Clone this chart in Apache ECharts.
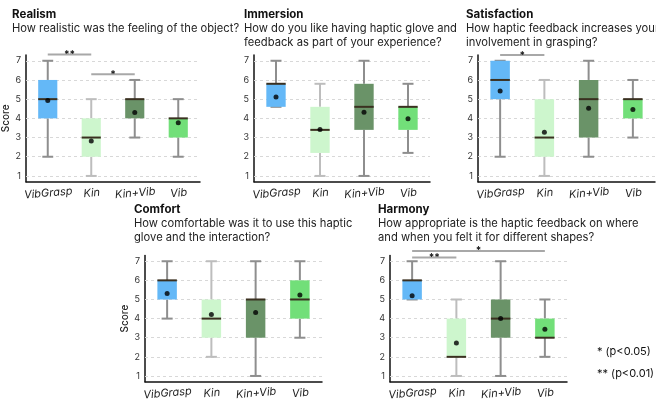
<!DOCTYPE html>
<html lang="en">
<head>
  <meta charset="UTF-8">
  <title>Haptic glove questionnaire</title>
  <style>html, body { margin: 0; padding: 0; background: #fff; }</style>
</head>
<body>
  <div id="main" style="width: 656px;height:403px;"></div>
  <script src="https://cdn.jsdelivr.net/npm/echarts@6/dist/echarts.min.js"></script>
  <script type="text/javascript">
    // conditions and score ticks
    var conditions = ['VibGrasp', 'Kin', 'Kin+Vib', 'Vib'];
    var scoreTicks = [1, 2, 3, 4, 5, 6, 7];

    // box stats per condition: [low, q1, median, q3, high]
    var realismBox = [[2, 4, 5, 6, 7], [1, 2, 3, 4, 5], [3, 4, 5, 5, 6], [2, 3, 4, 4, 5]];
    var realismMean = [4.93, 2.82, 4.31, 3.77];
    var immersionBox = [[4.6, 4.6, 5.8, 5.8, 7], [1, 2.2, 3.4, 4.6, 5.8], [1, 3.4, 4.6, 5.8, 7], [2.2, 3.4, 4.6, 4.6, 5.8]];
    var immersionMean = [5.11, 3.42, 4.32, 3.98];
    var satisfactionBox = [[2, 5, 6, 7, 7], [1, 2, 3, 5, 6], [2, 3, 5, 6, 7], [3, 4, 5, 5, 6]];
    var satisfactionMean = [5.43, 3.27, 4.53, 4.46];
    var comfortBox = [[4, 5, 6, 6, 7], [2, 3, 4, 5, 7], [1, 3, 5, 5, 7], [3, 4, 5, 6, 7]];
    var comfortMean = [5.31, 4.22, 4.32, 5.23];
    var harmonyBox = [[5, 5, 6, 6, 7], [1, 2, 2, 4, 5], [1, 3, 4, 5, 7], [2, 3, 3, 4, 5]];
    var harmonyMean = [5.19, 2.72, 4.01, 3.44];

    // significance brackets: [from, to, y, stars]
    var realismSig = [['VibGrasp', 'Kin', 7.33, '**'], ['Kin', 'Kin+Vib', 6.3, '*']];
    var immersionSig = [];
    var satisfactionSig = [['VibGrasp', 'Kin', 7.3, '*']];
    var comfortSig = [];
    var harmonySig = [['VibGrasp', 'Kin', 7.19, '**'], ['VibGrasp', 'Vib', 7.54, '*']];

    var panelTitles = ['Realism', 'Immersion', 'Satisfaction', 'Comfort', 'Harmony'];
    var panelQuestions = [
      'How realistic was the feeling of the object?',
      'How do you like having haptic glove and\nfeedback as part of your experience?',
      'How haptic feedback increases your\ninvolvement in grasping?',
      'How comfortable was it to use this haptic\nglove and the interaction?',
      'How appropriate is the haptic feedback on where\nand when you felt it for different shapes?'
    ];
    var noteLabels = ['* (p<0.05)', '** (p<0.01)'];

    var boxColors = ['#64b8f7', '#cdf6cd', '#6a9368', '#72df79'];
    var whiskerColors = ['#8e8e8e', '#bdbdbd', '#8e8e8e', '#8e8e8e'];
    var FONT = 'Inter';

    var myChart = echarts.init(document.getElementById('main'));
    myChart.setOption(buildOption());

    function buildOption() {
      var boxes = [realismBox, immersionBox, satisfactionBox, comfortBox, harmonyBox];
      var means = [realismMean, immersionMean, satisfactionMean, comfortMean, harmonyMean];
      var sigs = [realismSig, immersionSig, satisfactionSig, comfortSig, harmonySig];

      // layout of the five panels
      var grids = [
        { left: 23, top: 55, width: 177, height: 126.7 },
        { left: 254, top: 55, width: 176, height: 126.7 },
        { left: 478, top: 55, width: 177, height: 126.7 },
        { left: 145, top: 255.5, width: 177, height: 126.2 },
        { left: 390, top: 255.5, width: 177, height: 126.2 }
      ];
      var titlePos = [[12, 7], [244, 7], [466, 7], [134, 202], [378, 202]];

      var title = [], xAxis = [], yAxis = [], series = [];
      grids.forEach(function (g, k) {
        title.push({
          text: panelTitles[k],
          subtext: panelQuestions[k],
          left: titlePos[k][0],
          top: titlePos[k][1],
          padding: 0,
          itemGap: 0,
          textStyle: { fontFamily: FONT, fontSize: 11.5, fontWeight: 'bold', color: '#111', lineHeight: 15 },
          subtextStyle: { fontFamily: FONT, fontSize: 11.2, color: '#222', lineHeight: 14 }
        });
        xAxis.push({
          gridIndex: k,
          type: 'category',
          data: conditions,
          axisLine: { lineStyle: { color: '#111', width: 1.5 } },
          axisTick: { show: false },
          axisLabel: {
            interval: 0, hideOverlap: false,
            fontFamily: FONT, fontStyle: 'italic', fontSize: 11, color: '#222',
            rotate: 5, align: 'center', verticalAlign: 'top', margin: 6
          }
        });
        yAxis.push({
          gridIndex: k,
          type: 'value',
          min: 0.7,
          max: 7.3,
          name: (k === 0 || k === 3) ? 'Score' : '',
          nameLocation: 'middle',
          nameGap: 15,
          nameTextStyle: { fontFamily: FONT, fontSize: 10, fontWeight: 500, color: '#222' },
          axisLine: { show: true, lineStyle: { color: '#111', width: 1.5 } },
          axisTick: { show: false },
          splitLine: { show: false },
          axisLabel: { customValues: scoreTicks, fontFamily: FONT, fontSize: 9, color: '#333', margin: 5 }
        });

        // dashed gridlines at the integer scores
        series.push({
          type: 'line',
          xAxisIndex: k,
          yAxisIndex: k,
          data: [],
          z: 1,
          markLine: {
            z: 1,
            silent: true,
            symbol: 'none',
            label: { show: false },
            lineStyle: { type: [3, 3], color: '#d8d8d8', width: 1 },
            data: scoreTicks.map(function (v) { return { yAxis: v }; })
          }
        });

        series.push({
          type: 'custom',
          xAxisIndex: k,
          yAxisIndex: k,
          z: 2,
          encode: { x: 0, y: [1, 2, 3, 4, 5] },
          data: boxes[k].map(function (b, i) { return [i].concat(b); }),
          renderItem: renderBox
        });

        series.push({
          type: 'scatter',
          xAxisIndex: k,
          yAxisIndex: k,
          z: 3,
          symbolSize: 5,
          itemStyle: { color: '#000' },
          data: means[k].map(function (m, i) { return [conditions[i], m]; })
        });

        if (sigs[k].length) {
          series.push({
            type: 'custom',
            xAxisIndex: k,
            yAxisIndex: k,
            z: 4,
            clip: false,
            silent: true,
            data: sigs[k].map(function (s) {
              return [conditions.indexOf(s[0]), conditions.indexOf(s[1]), s[2], s[3]];
            }),
            renderItem: renderSig
          });
        }
      });

      var graphic = noteLabels.map(function (t, i) {
        return {
          type: 'text',
          left: 597,
          top: 346 + i * 22.5,
          style: { text: t, font: '11px ' + FONT, fill: '#111' }
        };
      });

      return { animation: false, title: title, grid: grids, xAxis: xAxis, yAxis: yAxis, series: series, graphic: graphic };
    }

    function renderBox(params, api) {
      var i = api.value(0);
      var lo = api.coord([i, api.value(1)]);
      var q1 = api.coord([i, api.value(2)]);
      var md = api.coord([i, api.value(3)]);
      var q3 = api.coord([i, api.value(4)]);
      var hi = api.coord([i, api.value(5)]);
      var band = api.size([1, 0])[0];
      var bw = band * 0.44;
      var cw = band * 0.25;
      var x = lo[0];
      var ws = { stroke: whiskerColors[i], lineWidth: 2 };
      return {
        type: 'group',
        children: [
          { type: 'line', shape: { x1: x, y1: lo[1], x2: x, y2: q1[1] }, style: ws },
          { type: 'line', shape: { x1: x, y1: q3[1], x2: x, y2: hi[1] }, style: ws },
          { type: 'line', shape: { x1: x - cw / 2, y1: lo[1], x2: x + cw / 2, y2: lo[1] }, style: ws },
          { type: 'line', shape: { x1: x - cw / 2, y1: hi[1], x2: x + cw / 2, y2: hi[1] }, style: ws },
          { type: 'rect', shape: { x: x - bw / 2, y: q3[1], width: bw, height: q1[1] - q3[1] }, style: { fill: boxColors[i] } },
          { type: 'line', shape: { x1: x - bw / 2, y1: md[1], x2: x + bw / 2, y2: md[1] }, style: { stroke: '#3a3020', lineWidth: 2 } }
        ]
      };
    }

    function renderSig(params, api) {
      var a = api.coord([api.value(0), api.value(2)]);
      var b = api.coord([api.value(1), api.value(2)]);
      return {
        type: 'group',
        children: [
          { type: 'line', shape: { x1: a[0], y1: a[1], x2: b[0], y2: b[1] }, style: { stroke: '#a8a8a8', lineWidth: 2 } },
          {
            type: 'text',
            style: {
              text: api.value(3), x: (a[0] + b[0]) / 2, y: a[1] + 0.5,
              font: 'bold 10px ' + FONT, fill: '#111', textAlign: 'center', textVerticalAlign: 'middle'
            }
          }
        ]
      };
    }
  </script>
</body>
</html>
